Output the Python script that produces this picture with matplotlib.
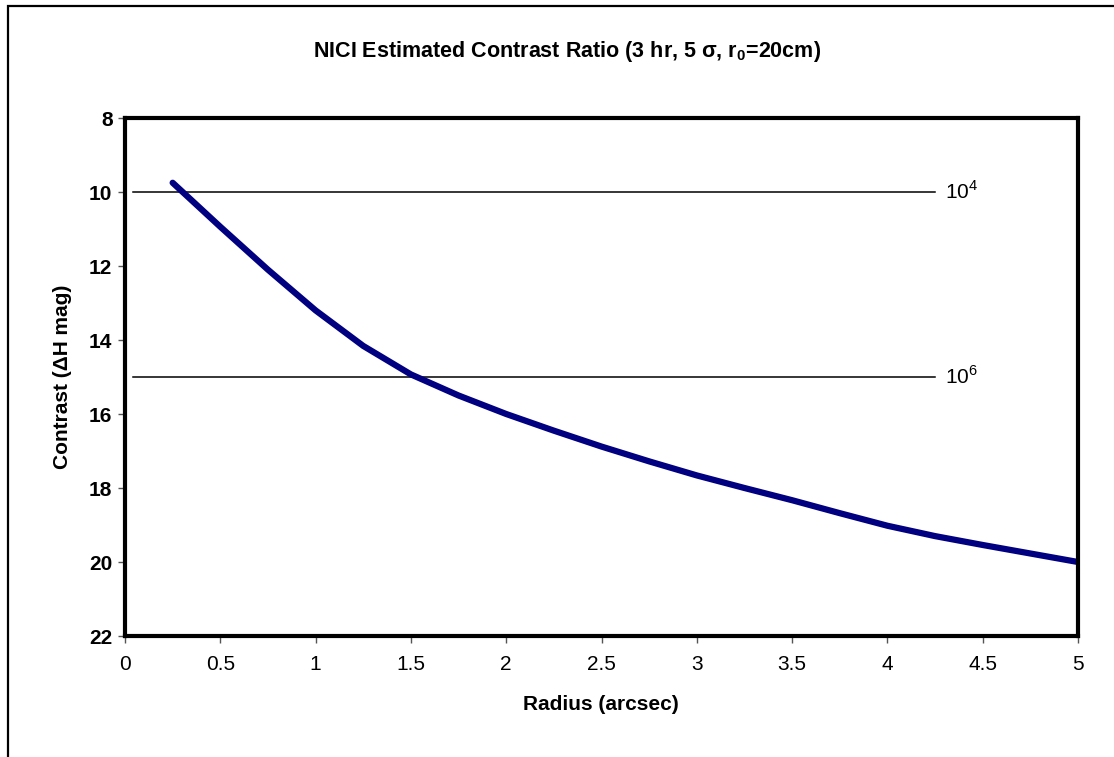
import matplotlib
matplotlib.use("Agg")
import matplotlib.pyplot as plt
import matplotlib.patches as mpatches

# contrast curve (radius in arcsec, contrast in delta H mag)
radius = [0.25, 0.5, 0.75, 1.0, 1.25, 1.5, 1.75, 2.0, 2.25, 2.5,
          2.75, 3.0, 3.25, 3.5, 3.75, 4.0, 4.25, 4.5, 4.75, 5.0]
contrast = [9.75, 10.94, 12.1, 13.2, 14.16, 14.93, 15.5, 16.0, 16.45, 16.88,
            17.28, 17.66, 18.0, 18.33, 18.68, 19.02, 19.3, 19.54, 19.77, 20.0]

# reference contrast levels
ref_levels = [10, 15]
ref_labels = ["10$^4$", "10$^6$"]
ref_x_start = 0.04
ref_x_end = 4.25

x_ticks = [0, 0.5, 1, 1.5, 2, 2.5, 3, 3.5, 4, 4.5, 5]
x_tick_labels = ["0", "0.5", "1", "1.5", "2", "2.5", "3", "3.5", "4", "4.5", "5"]
y_ticks = [8, 10, 12, 14, 16, 18, 20, 22]

W, H = 1114, 757

plt.rcParams["font.family"] = ["Liberation Sans", "DejaVu Sans"]
plt.rcParams["mathtext.fontset"] = "custom"
plt.rcParams["mathtext.rm"] = "Liberation Sans"
plt.rcParams["mathtext.bf"] = "Liberation Sans:bold"

fig = plt.figure(figsize=(W / 100, H / 100), dpi=100, facecolor="w")
ax = fig.add_axes([125 / W, 1 - 636 / H, (1078 - 125) / W, (636 - 118) / H])

# chart area border (only left and top edges visible in the picture)
fig.patches.append(mpatches.Rectangle((7.5 / W, -0.2), 2.0, 1.2 - 5.5 / H,
                                      transform=fig.transFigure, fill=False,
                                      edgecolor="black", linewidth=1.6))

for level, label in zip(ref_levels, ref_labels):
    ax.plot([ref_x_start, ref_x_end], [level, level], color="black", linewidth=1.1)
    ax.text(ref_x_end + 0.05, level, label, fontsize=15, va="center", ha="left")

ax.plot(radius, contrast, color="#000080", linewidth=4.5, solid_capstyle="round")

ax.set_xlim(0, 5)
ax.set_ylim(22, 8)
ax.set_xticks(x_ticks)
ax.set_xticklabels(x_tick_labels)
ax.set_yticks(y_ticks)

for s in ax.spines.values():
    s.set_linewidth(3)
    s.set_color("black")

ax.tick_params(axis="x", labelsize=15, length=5, width=1, color="#555555", pad=9)
ax.tick_params(axis="y", labelsize=15, length=5, width=1, color="#555555", pad=4)
for lab in ax.get_yticklabels():
    lab.set_fontweight("bold")

fig.text(601 / W, 1 - 704 / H, "Radius (arcsec)", fontsize=15, fontweight="bold",
         ha="center", va="center")
fig.text(62 / W, 1 - 377 / H, "Contrast (\u0394H mag)", fontsize=15, fontweight="bold",
         ha="center", va="center", rotation=90)

fig.text(567 / W, 1 - 52 / H,
         r"NICI Estimated Contrast Ratio (3 hr, 5 $\mathbf{\sigma}$, r$_\mathbf{0}$=20cm)",
         fontsize=15.5, fontweight="bold", ha="center", va="center")

fig.savefig("out.png", dpi=100, facecolor="w")
